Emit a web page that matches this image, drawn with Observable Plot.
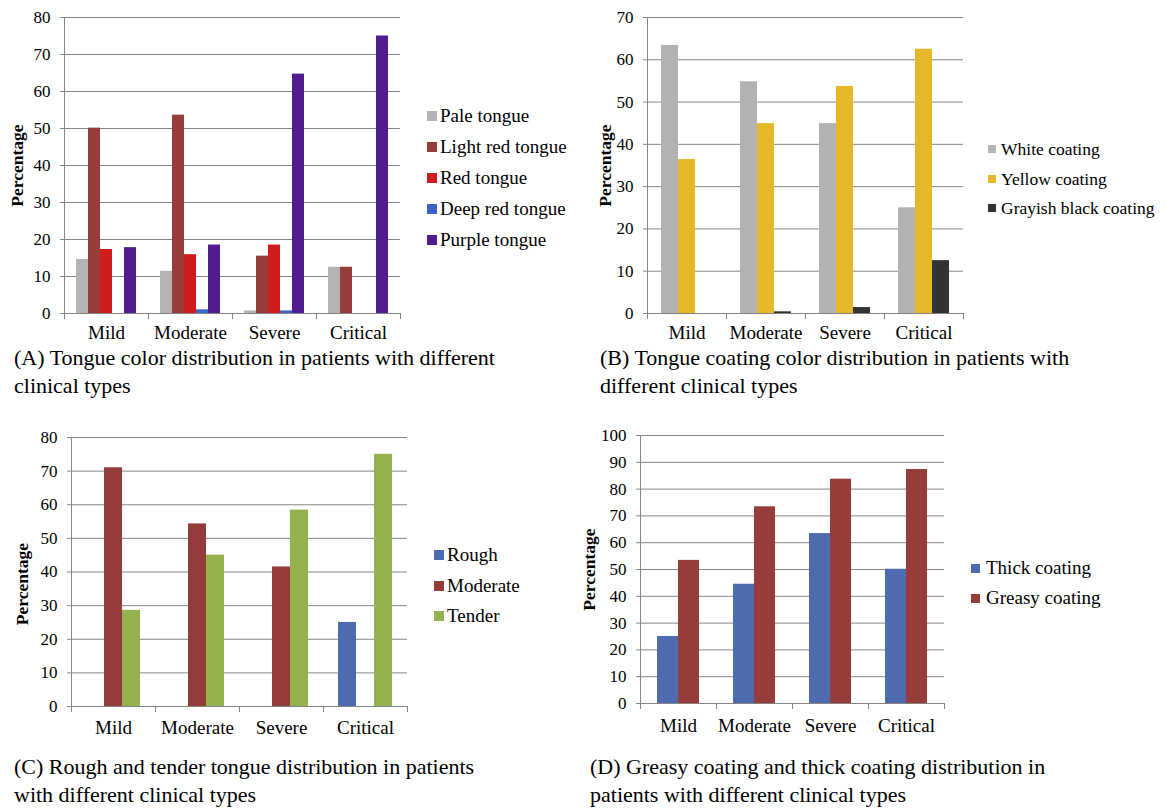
<!DOCTYPE html>
<html><head><meta charset="utf-8">
<script src="https://cdn.jsdelivr.net/npm/d3@7"></script>
<script src="https://cdn.jsdelivr.net/npm/@observablehq/plot@0.6"></script>
<style>
body{margin:0;background:#fff;}
#page{position:relative;width:1165px;height:808px;overflow:hidden;font-family:'Liberation Serif','Times New Roman',serif;color:#000;background:#fff;}
.panel{position:absolute;}
.caption{position:absolute;font-size:22px;line-height:28px;white-space:nowrap;}
.legend{position:absolute;}
.legend .item{position:absolute;left:0;height:22px;display:flex;align-items:center;white-space:nowrap;line-height:22px;}
</style></head><body><div id="page"></div>
<script>
// ---------- data ----------
const categories = ["Mild", "Moderate", "Severe", "Critical"];

// (A) Tongue color
const seriesA = ["Pale tongue", "Light red tongue", "Red tongue", "Deep red tongue", "Purple tongue"];
const colorsA = ["#b3b3b3", "#963d3b", "#d01c1f", "#3b64c4", "#521b8f"];
const paleTongue     = [14.6, 11.4, 0.7, 12.5];
const lightRedTongue = [50.1, 53.6, 15.5, 12.5];
const redTongue      = [17.3, 15.9, 18.5, 0];
const deepRedTongue  = [0, 1.0, 0.7, 0];
const purpleTongue   = [17.8, 18.5, 64.7, 75.0];
const yTicksA = [0, 10, 20, 30, 40, 50, 60, 70, 80];

// (B) Tongue coating color
const seriesB = ["White coating", "Yellow coating", "Grayish black coating"];
const colorsB = ["#b2b2b2", "#e5b829", "#333333"];
const whiteCoating  = [63.4, 54.8, 44.9, 25.0];
const yellowCoating = [36.4, 44.9, 53.7, 62.5];
const blackCoating  = [0, 0.4, 1.4, 12.5];
const yTicksB = [0, 10, 20, 30, 40, 50, 60, 70];

// (C) Rough and tender tongue
const seriesC = ["Rough", "Moderate", "Tender"];
const colorsC = ["#4f6bb0", "#943c3b", "#93b14c"];
const rough    = [0, 0, 0, 25.0];
const moderate = [71.0, 54.3, 41.5, 0];
const tender   = [28.6, 45.0, 58.4, 75.0];
const yTicksC = [0, 10, 20, 30, 40, 50, 60, 70, 80];

// (D) Greasy and thick coating
const seriesD = ["Thick coating", "Greasy coating"];
const colorsD = ["#4f6bb0", "#963c3b"];
const thickCoating  = [25.0, 44.5, 63.4, 50.1];
const greasyCoating = [53.4, 73.4, 83.7, 87.3];
const yTicksD = [0, 10, 20, 30, 40, 50, 60, 70, 80, 90, 100];

const captions = {
  A: ["(A) Tongue color distribution in patients with different", "clinical types"],
  B: ["(B) Tongue coating color distribution in patients with", "different clinical types"],
  C: ["(C) Rough and tender tongue distribution in patients", "with different clinical types"],
  D: ["(D) Greasy coating and thick coating distribution in", "patients with different clinical types"]
};

// ---------- drawing ----------
const FONT = "'Liberation Serif', 'Times New Roman', serif";
const GRID = "#858585";
const page = document.getElementById("page");

function rowsOf(series, values) {
  return categories.flatMap((c, i) => series.map((s, j) => ({cat: c, series: s, value: values[j][i]})));
}

function panel(o) {
  const rows = rowsOf(o.series, o.values);
  const frameH = o.height - o.mt - o.mb;
  const ymax = o.yTicks[o.yTicks.length - 1];
  const svg = Plot.plot({
    width: o.width, height: o.height,
    marginLeft: o.ml, marginTop: o.mt, marginBottom: o.mb, marginRight: o.mr,
    style: {fontFamily: FONT, fontSize: "17px", background: "transparent", overflow: "visible", color: "#000"},
    fx: {domain: categories, padding: 0, label: null},
    x: {domain: o.series, paddingInner: 0, paddingOuter: 0.75, axis: null},
    y: {domain: [0, ymax]},
    color: {domain: o.series, range: o.colors},
    marks: [
      Plot.gridY(o.yTicks, {stroke: GRID, strokeOpacity: 1}),
      Plot.barY(rows, {fx: "cat", x: "series", y: "value", fill: "series"}),
      Plot.ruleY([0], {stroke: GRID}),
      Plot.frame({anchor: "left", facetAnchor: "left", stroke: GRID}),
      Plot.frame({anchor: "left", stroke: GRID, insetTop: frameH, insetBottom: -5}),
      Plot.frame({anchor: "right", facetAnchor: "right", stroke: GRID, insetTop: frameH, insetBottom: -5}),
      Plot.axisY(o.yTicks, {anchor: "left", tickSize: 4, tickPadding: 10, fontSize: 17, stroke: GRID, fill: "#000", label: null}),
      Plot.axisFx({anchor: "bottom", tickSize: 0, tickPadding: o.tickPadding, fontSize: 19, fill: "#000", label: null}),
      Plot.text(["Percentage"], {text: d => d, frameAnchor: "left", facetAnchor: "left", rotate: -90,
        textAnchor: "middle", lineAnchor: "middle",
        dx: o.labelX - o.ml, dy: o.labelDy || 0, fontSize: 17.5, fontWeight: "bold", fill: "#000"})
    ]
  });
  const div = document.createElement("div");
  div.className = "panel";
  div.style.left = o.left + "px";
  div.style.top = o.top + "px";
  div.appendChild(svg);
  page.appendChild(div);
}

function legend(series, colors, o) {
  const div = document.createElement("div");
  div.className = "legend";
  div.style.left = o.left + "px";
  div.style.top = "0px";
  div.style.fontSize = o.fontSize + "px";
  series.forEach((s, i) => {
    const it = document.createElement("div");
    it.className = "item";
    it.style.top = (o.y0 + i * o.gap - 11) + "px";
    const sw = document.createElement("span");
    sw.style.display = "inline-block";
    sw.style.width = o.sw + "px";
    sw.style.height = o.sw + "px";
    sw.style.background = colors[i];
    sw.style.marginRight = o.sp + "px";
    const tx = document.createElement("span");
    tx.textContent = s;
    it.appendChild(sw);
    it.appendChild(tx);
    div.appendChild(it);
  });
  page.appendChild(div);
}

function caption(lines, left, top) {
  const div = document.createElement("div");
  div.className = "caption";
  div.style.left = left + "px";
  div.style.top = top + "px";
  lines.forEach((l, i) => {
    if (i) div.appendChild(document.createElement("br"));
    div.appendChild(document.createTextNode(l));
  });
  page.appendChild(div);
}

// Panel A
panel({series: seriesA, colors: colorsA, values: [paleTongue, lightRedTongue, redTongue, deepRedTongue, purpleTongue],
  yTicks: yTicksA, left: 0, top: 0, width: 410, height: 343, ml: 64, mt: 17, mb: 30, mr: 10, tickPadding: 12, labelX: 17});
legend(seriesA, colorsA, {left: 427, y0: 116, gap: 31, sw: 10, sp: 3, fontSize: 19});
caption(captions.A, 14, 344);

// Panel B
panel({series: seriesB, colors: colorsB, values: [whiteCoating, yellowCoating, blackCoating],
  yTicks: yTicksB, left: 580, top: 0, width: 393, height: 343, ml: 67, mt: 17, mb: 30, mr: 10, tickPadding: 12, labelX: 25});
legend(seriesB, colorsB, {left: 988, y0: 149, gap: 29.5, sw: 8, sp: 5, fontSize: 17.5});
caption(captions.B, 600, 344);

// Panel C
panel({series: seriesC, colors: colorsC, values: [rough, moderate, tender],
  yTicks: yTicksC, left: 0, top: 420, width: 418, height: 316, ml: 70, mt: 17, mb: 30, mr: 10, tickPadding: 14, labelX: 21, labelDy: 12});
legend(seriesC, colorsC, {left: 434, y0: 555, gap: 30.5, sw: 10, sp: 3, fontSize: 19});
caption(captions.C, 14, 753);

// Panel D
panel({series: seriesD, colors: colorsD, values: [thickCoating, greasyCoating],
  yTicks: yTicksD, left: 580, top: 420, width: 374, height: 313, ml: 60, mt: 15, mb: 30, mr: 10, tickPadding: 15, labelX: 9});
legend(seriesD, colorsD, {left: 971, y0: 568, gap: 30, sw: 9, sp: 6, fontSize: 19});
caption(captions.D, 590, 753);
</script></body></html>
